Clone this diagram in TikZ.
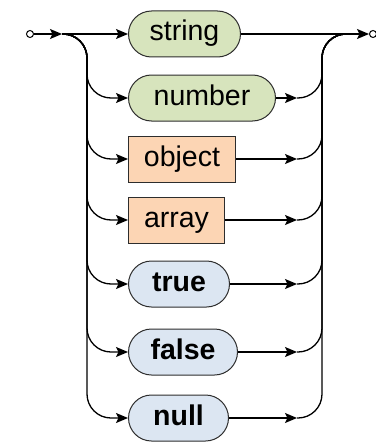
\documentclass[tikz,border=0pt]{standalone}
\usepackage{fontspec}
\setmainfont{Liberation Sans}
\usetikzlibrary{arrows.meta, positioning}
\definecolor{litgreen}{RGB}{215,228,189}
\definecolor{litorange}{RGB}{252,213,180}
\definecolor{litblue}{RGB}{220,230,242}
\definecolor{edge}{RGB}{45,45,45}
\tikzset{
    rail/.style={line width=1.3pt, line join=round},
    flow/.style={rail, -{Stealth[length=12pt,width=10pt,inset=2.5pt]}},
    token/.style={draw=edge, line width=1pt, minimum height=46pt, inner sep=0pt, text height=20pt, text depth=6pt, font=\fontsize{28.5}{32}\selectfont, anchor=west},
    valuebox/.style={token, rounded corners=23pt, fill=litgreen},
    compound/.style={token, fill=litorange},
    literal/.style={token, rounded corners=23pt, fill=litblue, font=\fontsize{28.5}{32}\selectfont\bfseries},
    port/.style={circle, draw, line width=1pt, fill=white, minimum size=7pt, inner sep=0pt}
}

\begin{document}
\begin{tikzpicture}[x=1pt, y=-1pt]
    \useasboundingbox (0,0) rectangle (375,444);

    % Entry and exit
    \node[port] (begin) at (30,34) {};
    \node[port] (finish) at (373,34) {};
    \coordinate (split) at (62,34);
    \coordinate (join) at (347,34);

    % Values
    \node[valuebox, minimum width=112pt] (string) at (128,34) {string};
    \node[valuebox, minimum width=147pt] (number) at (128,98) {number};
    \node[compound, minimum width=107pt] (object) at (128,159) {object};
    \node[compound, minimum width=96pt] (array) at (128,220) {array};
    \node[literal, minimum width=101pt] (true) at (128,284) {true};
    \node[literal, minimum width=109pt] (false) at (128,352) {false};
    \node[literal, minimum width=100pt] (null) at (128,418) {null};

    % Main line
    \draw[flow] (begin) -- (split);
    \draw[flow] (split) -- (string);
    \draw[flow] (string) -- (finish);

    % Branches
    \foreach \v in {number, object, array, true, false, null} {
        \draw[flow, rounded corners=24pt] (split) -| ([xshift=-41pt]\v.west) -- (\v.west);
        \draw[flow] (\v.east) -- ([xshift=169pt]\v.west);
        \draw[rail, rounded corners=24pt] ([xshift=169pt]\v.west) -| ([xshift=-25pt]join) -- (join);
    }
\end{tikzpicture}
\end{document}
